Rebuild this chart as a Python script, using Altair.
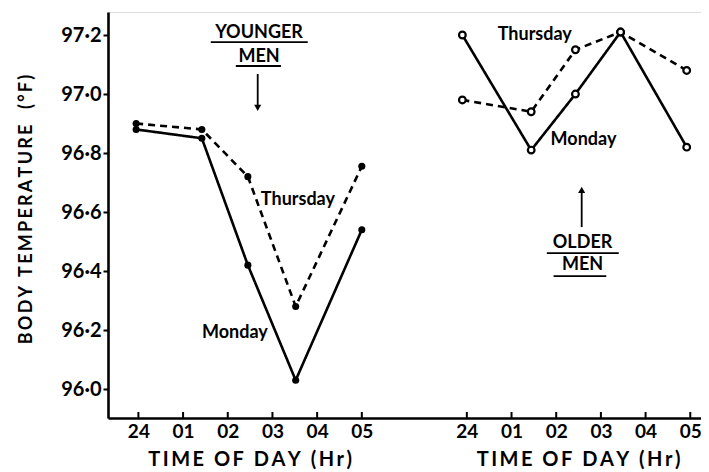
import altair as alt
import pandas as pd

# ---- data ----
tick_labels = ["24", "01", "02", "03", "04", "05"]
panel_offset = 7.35  # horizontal shift (hours) of the "older men" group

times_young = [-0.05, 1.42, 2.45, 3.52, 5.0]
times_old = [-0.1, 1.44, 2.43, 3.44, 4.92]
young_monday = [96.88, 96.85, 96.42, 96.03, 96.54]
young_thursday = [96.90, 96.88, 96.72, 96.28, 96.755]
old_monday = [97.20, 96.81, 97.00, 97.21, 96.82]
old_thursday = [96.98, 96.94, 97.15, 97.21, 97.08]

y_ticks = [96.0, 96.2, 96.4, 96.6, 96.8, 97.0, 97.2]


def spaced(s):
    # emulate the wide letter-spacing of the original lettering
    return "\u2009".join(ch if ch != " " else "\u00a0" for ch in s)


rows = []
for t, v in zip(times_young, young_monday):
    rows.append({"panel": "young", "series": "Monday", "x": t, "temp": v})
for t, v in zip(times_young, young_thursday):
    rows.append({"panel": "young", "series": "Thursday", "x": t, "temp": v})
for t, v in zip(times_old, old_monday):
    rows.append({"panel": "old", "series": "Monday", "x": t + panel_offset, "temp": v})
for t, v in zip(times_old, old_thursday):
    rows.append({"panel": "old", "series": "Thursday", "x": t + panel_offset, "temp": v})
df = pd.DataFrame(rows)
df["group"] = df["panel"] + "_" + df["series"]

tick_pos = list(range(6)) + [panel_offset + k for k in range(6)]
ticks_df = pd.DataFrame({"x": tick_pos})

# annotation texts (positions in data units)
labels_df = pd.DataFrame({
    "text": ["YOUNGER", "MEN", "Thursday", "Monday", "Thursday", "Monday", "OLDER", "MEN"],
    "x": [2.70, 2.70, 3.57, 2.16, 1.52 + panel_offset, 2.61 + panel_offset,
          2.59 + panel_offset, 2.59 + panel_offset],
    "temp": [97.207, 97.125, 96.641, 96.19, 97.2, 96.844, 96.495, 96.42],
})
underline_df = pd.DataFrame({
    "x": [1.62, 2.18, 1.79 + panel_offset, 1.94 + panel_offset],
    "x2": [3.79, 3.19, 3.40 + panel_offset, 3.12 + panel_offset],
    "temp": [97.176, 97.095, 96.461, 96.383],
})
arrow_df = pd.DataFrame({
    "x": [2.67, 2.57 + panel_offset],
    "y1": [97.068, 96.549],
    "tip": [96.953, 96.675],
    "shape": ["triangle-down", "triangle-up"],
})
xtitle_df = pd.DataFrame({"x": [2.5, 2.5 + panel_offset],
                          "text": [spaced("TIME OF DAY (Hr)")] * 2})

FONT = "Lato"
W, H = 593, 406
xs = alt.Scale(domain=[-0.68, 12.59], nice=False, zero=False)
ys = alt.Scale(domain=[95.902, 97.278], nice=False, zero=False)

arr = "[" + ",".join("'%s'" % s for s in tick_labels) + "]"
label_expr = f"{arr}[round(datum.value > 6 ? datum.value - {panel_offset} : datum.value)]"

base = alt.Chart(df)

lines = base.mark_line(color="black", strokeWidth=2.6).encode(
    x=alt.X("x:Q", scale=xs, axis=alt.Axis(
        values=tick_pos, labelExpr=label_expr, ticks=False, grid=False,
        domainColor="black", domainWidth=2.6, labelFont=FONT, labelFontSize=19,
        labelFontWeight="bold",
        labelColor="black", labelPadding=4, title=None)),
    y=alt.Y("temp:Q", scale=ys, axis=alt.Axis(
        values=y_ticks, labelExpr="replace(format(datum.value, '.1f'), '.', '·')",
        grid=False, domainColor="black", domainWidth=2.6, tickColor="black",
        tickWidth=2, tickSize=5, labelFont=FONT, labelFontSize=20, labelColor="black",
        labelFontWeight="bold",
        labelPadding=2, title=spaced("BODY TEMPERATURE  (°F)"), titleFont=FONT,
        titleFontSize=18, titleFontWeight="bold", titleColor="black",
        titleAngle=270, titleBaseline="middle", titleAlign="center",
        titleX=-82, titleY=H / 2 - 6)),
    detail="group:N",
    strokeDash=alt.StrokeDash("series:N", scale=alt.Scale(
        domain=["Monday", "Thursday"], range=[[1, 0], [7, 5]]), legend=None),
)

pts_young = base.transform_filter("datum.panel == 'young'").mark_point(
    filled=True, color="black", size=50, opacity=1).encode(
    x=alt.X("x:Q", scale=xs), y=alt.Y("temp:Q", scale=ys))

pts_old = base.transform_filter("datum.panel == 'old'").mark_point(
    filled=False, fill="white", stroke="black", strokeWidth=2.2, size=45, opacity=1).encode(
    x=alt.X("x:Q", scale=xs), y=alt.Y("temp:Q", scale=ys))

xticks = alt.Chart(ticks_df).mark_rule(color="black", strokeWidth=2).encode(
    x=alt.X("x:Q", scale=xs), y=alt.value(H), y2=alt.value(H - 6))

texts = alt.Chart(labels_df).mark_text(font=FONT, fontSize=18, fontWeight="bold",
                                       color="black",
                                       baseline="middle", align="center").encode(
    x=alt.X("x:Q", scale=xs), y=alt.Y("temp:Q", scale=ys), text="text:N")

underlines = alt.Chart(underline_df).mark_rule(color="black", strokeWidth=1.8).encode(
    x=alt.X("x:Q", scale=xs), x2="x2:Q", y=alt.Y("temp:Q", scale=ys))

arrow_shafts = alt.Chart(arrow_df).mark_rule(color="black", strokeWidth=1.8).encode(
    x=alt.X("x:Q", scale=xs), y=alt.Y("y1:Q", scale=ys), y2="tip:Q")

arrow_heads = alt.Chart(arrow_df).mark_point(filled=True, color="black", size=50,
                                             opacity=1).encode(
    x=alt.X("x:Q", scale=xs), y=alt.Y("tip:Q", scale=ys),
    shape=alt.Shape("shape:N", scale=None))

xtitles = alt.Chart(xtitle_df).mark_text(font=FONT, fontSize=20, fontWeight="bold",
                                         color="black",
                                         baseline="middle", align="center").encode(
    x=alt.X("x:Q", scale=xs), y=alt.value(H + 42), text="text:N")

chart = alt.layer(lines, pts_young, pts_old, xticks, texts, underlines,
                  arrow_shafts, arrow_heads, xtitles).properties(
    width=W, height=H,
    autosize=alt.AutoSizeParams(type="none"),
    padding={"left": 100, "top": 4, "right": 0, "bottom": 54},
).configure_view(stroke=None).configure(background="white")

chart.save("out.html", embed_options={"renderer": "svg", "actions": False})
